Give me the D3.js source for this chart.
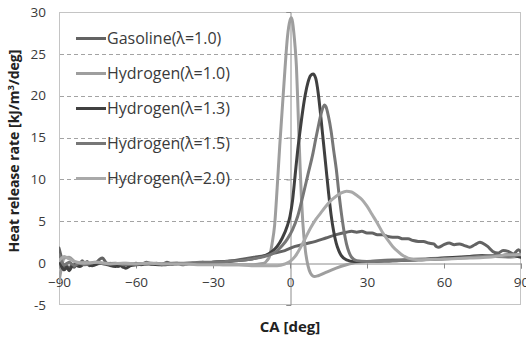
<!DOCTYPE html>
<html>
<head>
<meta charset="utf-8">
<script src="https://cdn.jsdelivr.net/npm/d3@7/dist/d3.min.js"></script>
<style>
  html, body { margin: 0; padding: 0; background: #fff; }
  svg { display: block; font-family: "Open Sans", "Liberation Sans", sans-serif; }
</style>
</head>
<body>
<svg id="chart" width="526" height="339"></svg>
<script>
// Crank angle [deg] vs. heat release rate [kJ/m^3/deg]
const gasoline10 = [[-90,1.8],[-89,0.6],[-88,-0.6],[-87,-0.3],[-86,-0.7],[-85,-0.2],[-84,-0.5],[-83,0.1],[-82,-0.2],[-81,0.3],[-80,-0.1],[-79,0.2],[-78,-0.3],[-77,0.0],[-76,-0.2],[-75,0.2],[-74,0.5],[-73,0.6],[-72,0.2],[-71,-0.1],[-70,0.0],[-69,-0.3],[-68,-0.1],[-67,-0.4],[-66,-0.2],[-65,-0.5],[-64,-0.1],[-62,-0.2],[-60,0.0],[-58,-0.2],[-56,0.1],[-54,-0.1],[-52,0.0],[-50,-0.2],[-48,0.1],[-46,-0.1],[-44,0.0],[-42,-0.2],[-40,-0.1],[-38,0.0],[-36,-0.1],[-34,0.1],[-32,0.0],[-30,0.1],[-26,0.2],[-22,0.3],[-18,0.5],[-14,0.7],[-10,0.9],[-6,1.2],[-2,1.5],[2,2.0],[6,2.3],[10,2.6],[14,3.0],[18,3.4],[22,3.7],[24,3.8],[26,3.7],[28,3.8],[30,3.6],[32,3.6],[34,3.4],[36,3.4],[38,3.2],[40,3.1],[42,3.1],[44,2.9],[46,2.9],[48,2.7],[50,2.6],[52,2.6],[54,2.4],[56,2.3],[57,2.0],[58,1.9],[60,2.2],[62,2.4],[64,2.2],[66,2.3],[68,2.1],[70,1.9],[72,2.2],[74,2.5],[75,2.4],[77,2.0],[79,1.4],[81,1.2],[83,1.5],[85,1.4],[87,1.1],[89,1.6],[90,1.3]];

const hydrogen10 = [[-90,-2.2],[-89,-0.5],[-88,0.6],[-86,0.7],[-84,0.2],[-82,0.0],[-80,0.1],[-76,-0.1],[-72,0.0],[-68,-0.1],[-64,0.0],[-60,-0.1],[-55,0.0],[-50,-0.1],[-45,0.0],[-40,-0.1],[-35,-0.1],[-30,-0.1],[-25,-0.2],[-20,-0.2],[-15,-0.2],[-12,-0.1],[-10,0.0],[-9,0.3],[-8,0.8],[-7,2.3],[-6,4.5],[-5,9.0],[-4,14.0],[-3,18.5],[-2,23.0],[-1,27.0],[0,29.0],[0.5,29.3],[1,28.8],[1.5,27.5],[2,25.8],[2.5,23.5],[3,19.5],[3.5,15.0],[4,11.0],[4.5,7.5],[5,4.8],[6,1.5],[7,-0.3],[8,-1.2],[9.5,-1.6],[11,-1.5],[14,-1.1],[18,-0.6],[22,-0.2],[26,0.1],[30,0.2],[40,0.4],[50,0.5],[60,0.6],[70,0.7],[80,0.8],[85,0.7],[90,0.9]];

const hydrogen13 = [[-90,0.5],[-89,-0.4],[-88,-0.8],[-87,-0.5],[-86,-0.9],[-85,-0.4],[-84,-0.2],[-82,-0.4],[-80,-0.1],[-77,-0.3],[-74,0.0],[-71,-0.2],[-68,-0.4],[-66,-0.3],[-64,-0.6],[-62,-0.3],[-60,-0.2],[-55,-0.1],[-50,-0.2],[-45,-0.1],[-40,0.0],[-35,0.0],[-30,0.1],[-25,0.2],[-20,0.3],[-15,0.5],[-12,0.7],[-9,1.0],[-7,1.4],[-5,2.0],[-3,3.0],[-1,4.5],[0,5.6],[1,7.5],[2,10.5],[3,13.5],[4,16.0],[5,18.3],[6,20.2],[7,21.6],[8,22.4],[9,22.6],[10,22.1],[11,20.3],[12,17.5],[13,14.5],[14,11.5],[15,8.5],[16,5.8],[17,3.8],[18,2.4],[19,1.5],[20,0.9],[22,0.4],[25,0.2],[30,0.2],[40,0.3],[50,0.4],[60,0.6],[70,0.8],[75,0.9],[80,0.8],[85,1.0],[90,0.7]];

const hydrogen15 = [[-90,1.0],[-89,0.2],[-88,-0.2],[-86,0.1],[-84,-0.3],[-82,0.0],[-80,-0.2],[-76,0.1],[-72,-0.1],[-68,0.0],[-64,-0.2],[-60,-0.1],[-55,0.0],[-50,-0.1],[-45,0.0],[-40,0.0],[-35,0.1],[-30,0.1],[-25,0.2],[-20,0.3],[-15,0.5],[-10,0.8],[-7,1.1],[-5,1.5],[-3,2.1],[-1,2.9],[1,4.0],[3,5.6],[5,8.0],[7,10.6],[9,13.2],[10,14.8],[11,16.3],[12,17.7],[13,18.7],[13.5,18.9],[14,18.7],[15,17.5],[16,15.8],[17,13.5],[18,11.3],[19,8.5],[20,6.0],[21,3.9],[22,2.3],[23,1.3],[24,0.7],[26,0.3],[30,0.2],[40,0.3],[50,0.4],[60,0.5],[70,0.7],[80,0.9],[85,0.8],[90,1.1]];

const hydrogen20 = [[-90,0.3],[-89,0.6],[-88,0.8],[-86,0.5],[-83,0.1],[-80,0.0],[-75,0.1],[-70,-0.1],[-65,0.0],[-60,-0.1],[-55,0.0],[-50,-0.1],[-45,-0.1],[-40,-0.1],[-35,-0.2],[-30,-0.2],[-25,-0.2],[-20,-0.2],[-15,-0.3],[-10,-0.3],[-5,-0.3],[-2,-0.1],[0,0.2],[2,0.8],[4,1.8],[6,3.0],[8,4.2],[10,5.2],[12,6.0],[14,6.8],[16,7.5],[18,8.0],[20,8.4],[22,8.6],[24,8.5],[26,8.1],[28,7.6],[30,6.8],[32,5.8],[34,4.8],[36,3.7],[38,2.8],[40,2.0],[42,1.4],[44,0.9],[46,0.6],[50,0.4],[60,0.5],[70,0.6],[80,0.8],[85,1.0],[90,1.0]];

const seriesNames = ["Gasoline(\u03bb=1.0)", "Hydrogen(\u03bb=1.0)", "Hydrogen(\u03bb=1.3)", "Hydrogen(\u03bb=1.5)", "Hydrogen(\u03bb=2.0)"];
const seriesData = [gasoline10, hydrogen10, hydrogen13, hydrogen15, hydrogen20];
const seriesColors = ["#636363", "#9e9e9e", "#404040", "#777777", "#a9a9a9"];

const xTicks = [-90, -60, -30, 0, 30, 60, 90];
const yTicks = [-5, 0, 5, 10, 15, 20, 25, 30];
const yGridValues = [5, 10, 15, 20, 25];

const svg = d3.select("#chart");
const plot = { left: 59, right: 521, top: 12, bottom: 305 };

const x = d3.scaleLinear().domain([-90, 90]).range([plot.left, plot.right]);
const y = d3.scaleLinear().domain([-5, 30]).range([plot.bottom, plot.top]);

// plot-area frame
svg.append("rect")
  .attr("x", plot.left + 0.5).attr("y", plot.top + 0.5)
  .attr("width", plot.right - plot.left - 1).attr("height", plot.bottom - plot.top - 1)
  .attr("fill", "none").attr("stroke", "#c4c4c4").attr("stroke-width", 1);

// dashed horizontal gridlines
svg.append("g").selectAll("line").data(yGridValues).join("line")
  .attr("x1", plot.left + 1).attr("x2", plot.right - 1)
  .attr("y1", d => Math.round(y(d)) + 0.5).attr("y2", d => Math.round(y(d)) + 0.5)
  .attr("stroke", "#a3a3a3").attr("stroke-width", 1).attr("stroke-dasharray", "4,3");

// horizontal axis along y = 0, ticks pointing down, labels below
const xAxis = d3.axisBottom(x).tickValues(xTicks).tickSize(5).tickPadding(9).tickFormat(d3.format("d"));
const gx = svg.append("g")
  .attr("transform", `translate(0,${Math.round(y(0)) + 0.5})`)
  .call(xAxis);
gx.select(".domain").attr("stroke", "#8c8c8c");
gx.selectAll(".tick line").attr("stroke", "#8c8c8c");
gx.selectAll(".tick text")
  .attr("fill", "#3a3a3a").style("font-size", "13.5px")
  .style("font-family", "'Open Sans', sans-serif");

// vertical axis crossing at CA = 0, labels sit at the left of the plot
const gy = svg.append("g")
  .attr("transform", `translate(${Math.round(x(0)) + 0.5},0)`)
  .call(d3.axisLeft(y).tickValues(yTicks).tickSize(4).tickFormat(""));
gy.select(".domain").attr("stroke", "#8c8c8c");
gy.selectAll(".tick line").attr("stroke", "#8c8c8c");

svg.append("g").selectAll("text").data(yTicks).join("text")
  .attr("x", 46).attr("y", d => y(d)).attr("dy", "0.35em")
  .attr("text-anchor", "end").attr("fill", "#3a3a3a")
  .style("font-size", "13.5px").text(d => d);

// curves
const line = d3.line().x(d => x(d[0])).y(d => y(d[1])).curve(d3.curveMonotoneX);
svg.append("defs").append("clipPath").attr("id", "plotClip")
  .append("rect").attr("x", plot.left).attr("y", plot.top)
  .attr("width", plot.right - plot.left).attr("height", plot.bottom - plot.top);

svg.append("g").attr("clip-path", "url(#plotClip)")
  .selectAll("path").data(seriesData).join("path")
  .attr("d", line).attr("fill", "none")
  .attr("stroke", (d, i) => seriesColors[i])
  .attr("stroke-width", 3).attr("stroke-linejoin", "round").attr("stroke-linecap", "round");

// legend
const legend = svg.append("g");
const legendRows = legend.selectAll("g").data(seriesNames).join("g")
  .attr("transform", (d, i) => `translate(76,${38.5 + i * 35})`);
legendRows.append("line")
  .attr("x1", 0).attr("x2", 30).attr("y1", 0).attr("y2", 0)
  .attr("stroke", (d, i) => seriesColors[i]).attr("stroke-width", 3);
legendRows.append("text")
  .attr("x", 31).attr("y", 0).attr("dy", "0.36em")
  .attr("fill", "#3a3a3a").style("font-size", "16px").text(d => d);

// axis titles
svg.append("text")
  .attr("x", 290).attr("y", 332).attr("text-anchor", "middle")
  .attr("fill", "#222").style("font-size", "15px").style("font-weight", "bold")
  .text("CA [deg]");

const yTitle = svg.append("text")
  .attr("transform", "translate(19,151) rotate(-90)")
  .attr("text-anchor", "middle")
  .attr("fill", "#222").style("font-size", "14px").style("font-weight", "bold");
yTitle.append("tspan").text("Heat release rate [kJ/m");
yTitle.append("tspan").attr("dy", "-5").style("font-size", "9.5px").text("3");
yTitle.append("tspan").attr("dy", "5").text("/deg]");
</script>
</body>
</html>
